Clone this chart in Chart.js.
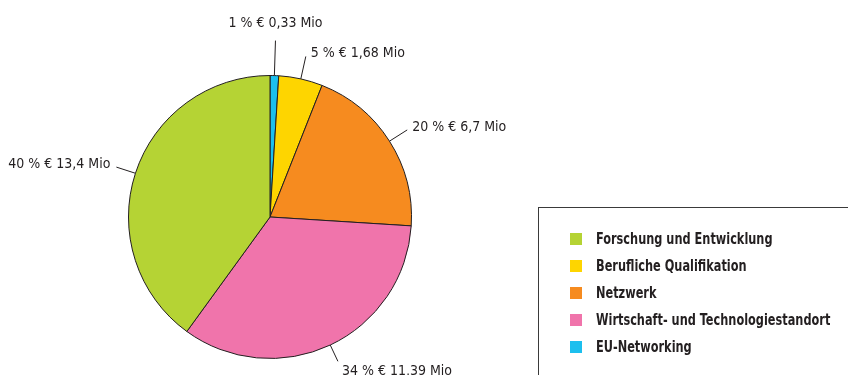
<!DOCTYPE html>
<html>
<head>
<meta charset="utf-8">
<script src="https://cdn.jsdelivr.net/npm/chart.js@4/dist/chart.umd.min.js"></script>
<style>
  html, body { margin: 0; padding: 0; background: #fff; }
  #wrap { position: relative; width: 848px; height: 375px; }
</style>
</head>
<body>
<div id="wrap"><canvas id="pie" width="848" height="375"></canvas></div>
<script>
// Funding areas, in the order the slices run clockwise from 12 o'clock
const categories = [
  'EU-Networking',
  'Berufliche Qualifikation',
  'Netzwerk',
  'Wirtschaft- und Technologiestandort',
  'Forschung und Entwicklung'
];
// Amounts in million euro
const amounts = [0.33, 1.68, 6.7, 11.39, 13.4];
// Shares in percent as printed next to each slice
const shares = [1, 5, 20, 34, 40];
// Amount text as printed
const amountLabels = ['0,33', '1,68', '6,7', '11,39', '13,4'];
// Order of the entries in the legend box
const legendOrder = [4, 1, 2, 3, 0];

const colors = ['#1cbfee', '#fed500', '#f68b1f', '#f074ab', '#b5d334'];

// Leader lines with the "xx % € y Mio" text outside each slice
const sliceLabels = {
  id: 'sliceLabels',
  afterDatasetsDraw(chart, args, opts) {
    const ctx = chart.ctx;
    const arcs = chart.getDatasetMeta(0).data;
    ctx.save();
    ctx.font = opts.font;
    ctx.fillStyle = '#231f20';
    ctx.strokeStyle = '#231f20';
    ctx.lineWidth = 1;
    arcs.forEach((arc, i) => {
      const mid = (arc.startAngle + arc.endAngle) / 2;
      const dx = Math.cos(mid), dy = Math.sin(mid);
      const r = arc.outerRadius;
      const len = opts.lengths[i];
      const x0 = arc.x + dx * r, y0 = arc.y + dy * r;
      const x1 = arc.x + dx * (r + len), y1 = arc.y + dy * (r + len);
      ctx.beginPath();
      ctx.moveTo(x0, y0);
      ctx.lineTo(x1, y1);
      ctx.stroke();
      const text = shares[i] + ' % € ' + amountLabels[i] + ' Mio';
      let tx = x1, ty = y1;
      if (Math.abs(dx) < 0.1) {
        ctx.textAlign = 'center';
        ctx.textBaseline = 'bottom';
        ty = y1 - 10;
      } else {
        ctx.textAlign = dx > 0 ? 'left' : 'right';
        tx = x1 + (dx > 0 ? 5 : -6);
        if (dy > 0.5) {
          ctx.textBaseline = 'top';
          tx = x1 + 4;
          ty = y1 + 3;
        } else {
          ctx.textBaseline = 'middle';
          ty = y1 - 3;
        }
      }
      ctx.fillText(text, tx, ty);
    });
    ctx.restore();
  }
};

// Framed legend box at the lower right
const boxLegend = {
  id: 'boxLegend',
  afterDraw(chart, args, opts) {
    const ctx = chart.ctx;
    ctx.save();
    ctx.strokeStyle = '#3a3a3a';
    ctx.lineWidth = 1;
    ctx.strokeRect(opts.x + 0.5, opts.y + 0.5, opts.w, opts.h);
    ctx.font = opts.font;
    ctx.textBaseline = 'middle';
    ctx.textAlign = 'left';
    legendOrder.forEach((idx, row) => {
      const cy = opts.y + opts.firstRow + row * opts.rowGap;
      ctx.fillStyle = colors[idx];
      ctx.fillRect(opts.x + opts.swatchX, cy - opts.swatch / 2, opts.swatch, opts.swatch);
      ctx.fillStyle = '#231f20';
      // narrow the bold face horizontally so the entries read condensed
      ctx.save();
      ctx.translate(opts.x + opts.textX, cy + 1);
      ctx.scale(opts.squeeze, 1);
      ctx.fillText(categories[idx], 0, 0);
      ctx.restore();
    });
    ctx.restore();
  }
};

new Chart(document.getElementById('pie'), {
  type: 'pie',
  data: {
    labels: categories,
    datasets: [{
      data: amounts,
      backgroundColor: colors,
      borderColor: '#231f20',
      borderWidth: 1
    }]
  },
  options: {
    responsive: false,
    animation: false,
    layout: { padding: { top: 75, bottom: 16, left: 128, right: 436 } },
    plugins: {
      legend: { display: false },
      tooltip: { enabled: false },
      sliceLabels: {
        font: '14px "DejaVu Sans Condensed", "DejaVu Sans", sans-serif',
        lengths: [35, 23, 21, 18, 20]
      },
      boxLegend: {
        x: 538, y: 207, w: 320, h: 200,
        firstRow: 32, rowGap: 27, swatch: 12, swatchX: 32, textX: 58,
        squeeze: 0.84,
        font: 'bold 15px "DejaVu Sans Condensed", "DejaVu Sans", sans-serif'
      }
    }
  },
  plugins: [sliceLabels, boxLegend]
});
</script>
</body>
</html>
